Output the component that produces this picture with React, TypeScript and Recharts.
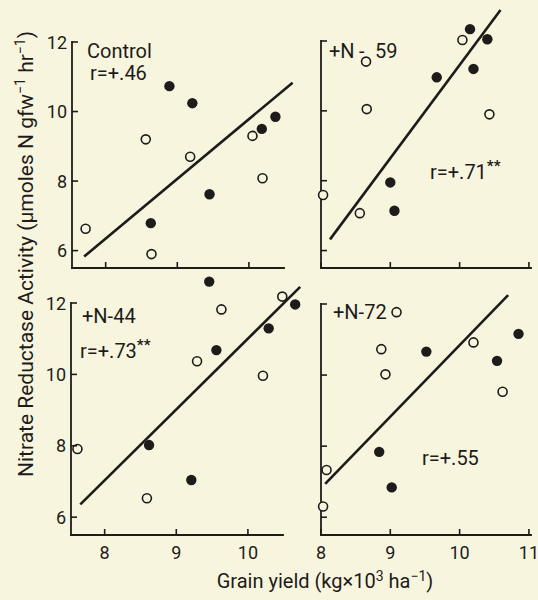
import { ScatterChart, Scatter, XAxis, YAxis, ReferenceLine } from 'recharts';

const INK = '#1d1c1a';
const PAPER = '#f8f5df';
const FONT = 'Roboto, "DejaVu Sans", sans-serif';

type Pt = { x: number; y: number };

// Control
const controlFilled: Pt[] = [
  { x: 8.89, y: 10.73 }, { x: 9.21, y: 10.24 }, { x: 10.18, y: 9.5 },
  { x: 10.37, y: 9.85 }, { x: 9.45, y: 7.62 }, { x: 8.63, y: 6.79 },
];
const controlOpen: Pt[] = [
  { x: 7.72, y: 6.63 }, { x: 8.56, y: 9.2 }, { x: 9.18, y: 8.7 },
  { x: 10.05, y: 9.3 }, { x: 10.19, y: 8.08 }, { x: 8.64, y: 5.9 },
];
const controlFit: Pt[] = [{ x: 7.7, y: 5.83 }, { x: 10.61, y: 10.83 }];

// +N-59
const n59Filled: Pt[] = [
  { x: 10.15, y: 12.34 }, { x: 10.4, y: 12.05 }, { x: 10.2, y: 11.2 },
  { x: 9.67, y: 10.96 }, { x: 9.0, y: 7.95 }, { x: 9.06, y: 7.14 },
];
const n59Open: Pt[] = [
  { x: 10.04, y: 12.03 }, { x: 8.65, y: 11.41 }, { x: 8.66, y: 10.05 },
  { x: 10.43, y: 9.9 }, { x: 8.56, y: 7.07 }, { x: 8.03, y: 7.59 },
];
const n59Fit: Pt[] = [{ x: 8.13, y: 6.32 }, { x: 10.59, y: 12.89 }];

// +N-44
const n44Filled: Pt[] = [
  { x: 9.46, y: 12.6 }, { x: 10.66, y: 11.96 }, { x: 10.29, y: 11.29 },
  { x: 9.56, y: 10.68 }, { x: 8.62, y: 8.02 }, { x: 9.21, y: 7.04 },
];
const n44Open: Pt[] = [
  { x: 10.48, y: 12.18 }, { x: 9.63, y: 11.82 }, { x: 9.29, y: 10.37 },
  { x: 10.21, y: 9.96 }, { x: 7.62, y: 7.91 }, { x: 8.59, y: 6.53 },
];
const n44Fit: Pt[] = [{ x: 7.66, y: 6.36 }, { x: 10.73, y: 12.45 }];

// +N-72
const n72Filled: Pt[] = [
  { x: 10.85, y: 11.16 }, { x: 10.54, y: 10.4 }, { x: 9.52, y: 10.66 },
  { x: 8.84, y: 7.84 }, { x: 9.02, y: 6.84 },
];
const n72Open: Pt[] = [
  { x: 9.09, y: 11.77 }, { x: 8.87, y: 10.73 }, { x: 8.93, y: 10.02 },
  { x: 10.2, y: 10.92 }, { x: 10.62, y: 9.53 }, { x: 8.08, y: 7.33 },
  { x: 8.03, y: 6.3 },
];
const n72Fit: Pt[] = [{ x: 8.06, y: 6.94 }, { x: 10.7, y: 12.25 }];

const leftYieldDomain = [7.53, 10.49];
const rightYieldDomain = [8, 11.03];
const leftYieldTicks = [8, 9, 10];
const rightYieldTicks = [8, 9, 10, 11];
const activityDomain = [5.5, 12];
const activityTicks = [6, 8, 10, 12];

const W = 538;
const H = 600;
const Y_AXIS_W = 30;
const X_AXIS_H = 30;

const xTick = (withLabel: boolean) => (props: any) => {
  const { x, y, payload } = props;
  return (
    <g>
      <line x1={x} x2={x} y1={y} y2={y - 6} stroke={INK} strokeWidth={1.6} />
      {withLabel && (
        <text x={x} y={y + 24} textAnchor="middle" fontFamily={FONT} fontSize={18} fill={INK}>
          {payload.value}
        </text>
      )}
    </g>
  );
};

const yTick = (withLabel: boolean) => (props: any) => {
  const { x, y, payload } = props;
  return (
    <g>
      <line x1={x} x2={x + 6} y1={y} y2={y} stroke={INK} strokeWidth={1.6} />
      {withLabel && (
        <text x={x - 5} y={y + 6.5} textAnchor="end" fontFamily={FONT} fontSize={18} fill={INK}>
          {payload.value}
        </text>
      )}
    </g>
  );
};

const filledDot = (p: any) => <circle cx={p.cx} cy={p.cy} r={5.2} fill={INK} />;
const openDot = (p: any) => (
  <circle cx={p.cx} cy={p.cy} r={4.5} fill={PAPER} stroke={INK} strokeWidth={1.6} />
);

type Box = { left: number; top: number; right: number; bottom: number };

type PanelProps = {
  filled: Pt[];
  open: Pt[];
  fit: Pt[];
  box: Box;
  xDomain: number[];
  xTicks: number[];
  xLabels: boolean;
  yLabels: boolean;
};

// every panel spans the whole page; margin + axis size place its plot box
function Panel({ filled, open, fit, box, xDomain, xTicks, xLabels, yLabels }: PanelProps) {
  const axisLine = { stroke: INK, strokeWidth: 1.8, strokeLinecap: 'square' as const };
  return (
    <div style={{ position: 'absolute', left: 0, top: 0 }}>
      <ScatterChart
        width={W}
        height={H}
        margin={{
          left: box.left - Y_AXIS_W,
          top: box.top,
          right: W - box.right,
          bottom: H - box.bottom - X_AXIS_H,
        }}
      >
        <XAxis
          type="number"
          dataKey="x"
          domain={xDomain}
          ticks={xTicks}
          allowDataOverflow
          interval={0}
          height={X_AXIS_H}
          tickSize={0}
          tickMargin={0}
          tickLine={false}
          axisLine={axisLine}
          tick={xTick(xLabels)}
        />
        <YAxis
          type="number"
          dataKey="y"
          domain={activityDomain}
          ticks={activityTicks}
          allowDataOverflow
          interval={0}
          width={Y_AXIS_W}
          tickSize={0}
          tickMargin={0}
          tickLine={false}
          axisLine={axisLine}
          tick={yTick(yLabels)}
        />
        <ReferenceLine segment={fit} ifOverflow="visible" stroke={INK} strokeWidth={2.6} />
        <Scatter data={filled} shape={filledDot} isAnimationActive={false} />
        <Scatter data={open} shape={openDot} isAnimationActive={false} />
      </ScatterChart>
    </div>
  );
}

const labelStyle = { fontFamily: FONT, fontSize: 20, fill: INK };
const starStyle = { fontSize: 15, fontWeight: 700 };

export default function App() {
  return (
    <div
      style={{
        position: 'absolute',
        left: 0,
        top: 0,
        width: W,
        height: H,
        background: PAPER,
        overflow: 'hidden',
      }}
    >
      <style>{'.recharts-scatter,.recharts-reference-line{clip-path:none!important}'}</style>
      <Panel
        filled={controlFilled}
        open={controlOpen}
        fit={controlFit}
        box={{ left: 72, top: 42, right: 284, bottom: 268 }}
        xDomain={leftYieldDomain}
        xTicks={leftYieldTicks}
        xLabels={false}
        yLabels
      />
      <Panel
        filled={n59Filled}
        open={n59Open}
        fit={n59Fit}
        box={{ left: 321, top: 41, right: 531, bottom: 268 }}
        xDomain={rightYieldDomain}
        xTicks={rightYieldTicks}
        xLabels={false}
        yLabels={false}
      />
      <Panel
        filled={n44Filled}
        open={n44Open}
        fit={n44Fit}
        box={{ left: 71, top: 303, right: 283, bottom: 535 }}
        xDomain={leftYieldDomain}
        xTicks={leftYieldTicks}
        xLabels
        yLabels
      />
      <Panel
        filled={n72Filled}
        open={n72Open}
        fit={n72Fit}
        box={{ left: 321, top: 304, right: 531, bottom: 535 }}
        xDomain={rightYieldDomain}
        xTicks={rightYieldTicks}
        xLabels
        yLabels={false}
      />
      <svg
        width={W}
        height={H}
        style={{ position: 'absolute', left: 0, top: 0, pointerEvents: 'none' }}
      >
        <text x={87} y={58} {...labelStyle}>Control</text>
        <text x={90} y={80} {...labelStyle}>r=+.46</text>

        <text y={58} {...labelStyle}>
          <tspan x={329}>+N</tspan>
          <tspan x={359}>-</tspan>
          <tspan x={375}>59</tspan>
        </text>
        <text x={430} y={179} {...labelStyle}>
          r=+.71<tspan dy={-8} {...starStyle}>**</tspan>
        </text>

        <text x={82} y={323} {...labelStyle}>+N-44</text>
        <text x={80} y={358} {...labelStyle}>
          r=+.73<tspan dy={-8} {...starStyle}>**</tspan>
        </text>

        <text x={333} y={319} {...labelStyle}>+N-72</text>
        <text x={422} y={465} {...labelStyle}>r=+.55</text>

        <text
          transform="translate(33,254) rotate(-90)"
          textAnchor="middle"
          fontFamily={FONT}
          fontSize={21}
          fill={INK}
        >
          Nitrate Reductase Activity (μmoles N gfw<tspan dy={-8} fontSize={14}>−1</tspan>
          <tspan dy={8}> hr</tspan>
          <tspan dy={-8} fontSize={14}>−1</tspan>
          <tspan dy={8}>)</tspan>
        </text>

        <text x={325} y={588} textAnchor="middle" fontFamily={FONT} fontSize={20} fill={INK}>
          Grain yield (kg×10<tspan dy={-7} fontSize={14}>3</tspan>
          <tspan dy={7}> ha</tspan>
          <tspan dy={-7} fontSize={14}>−1</tspan>
          <tspan dy={7}>)</tspan>
        </text>
      </svg>
    </div>
  );
}
